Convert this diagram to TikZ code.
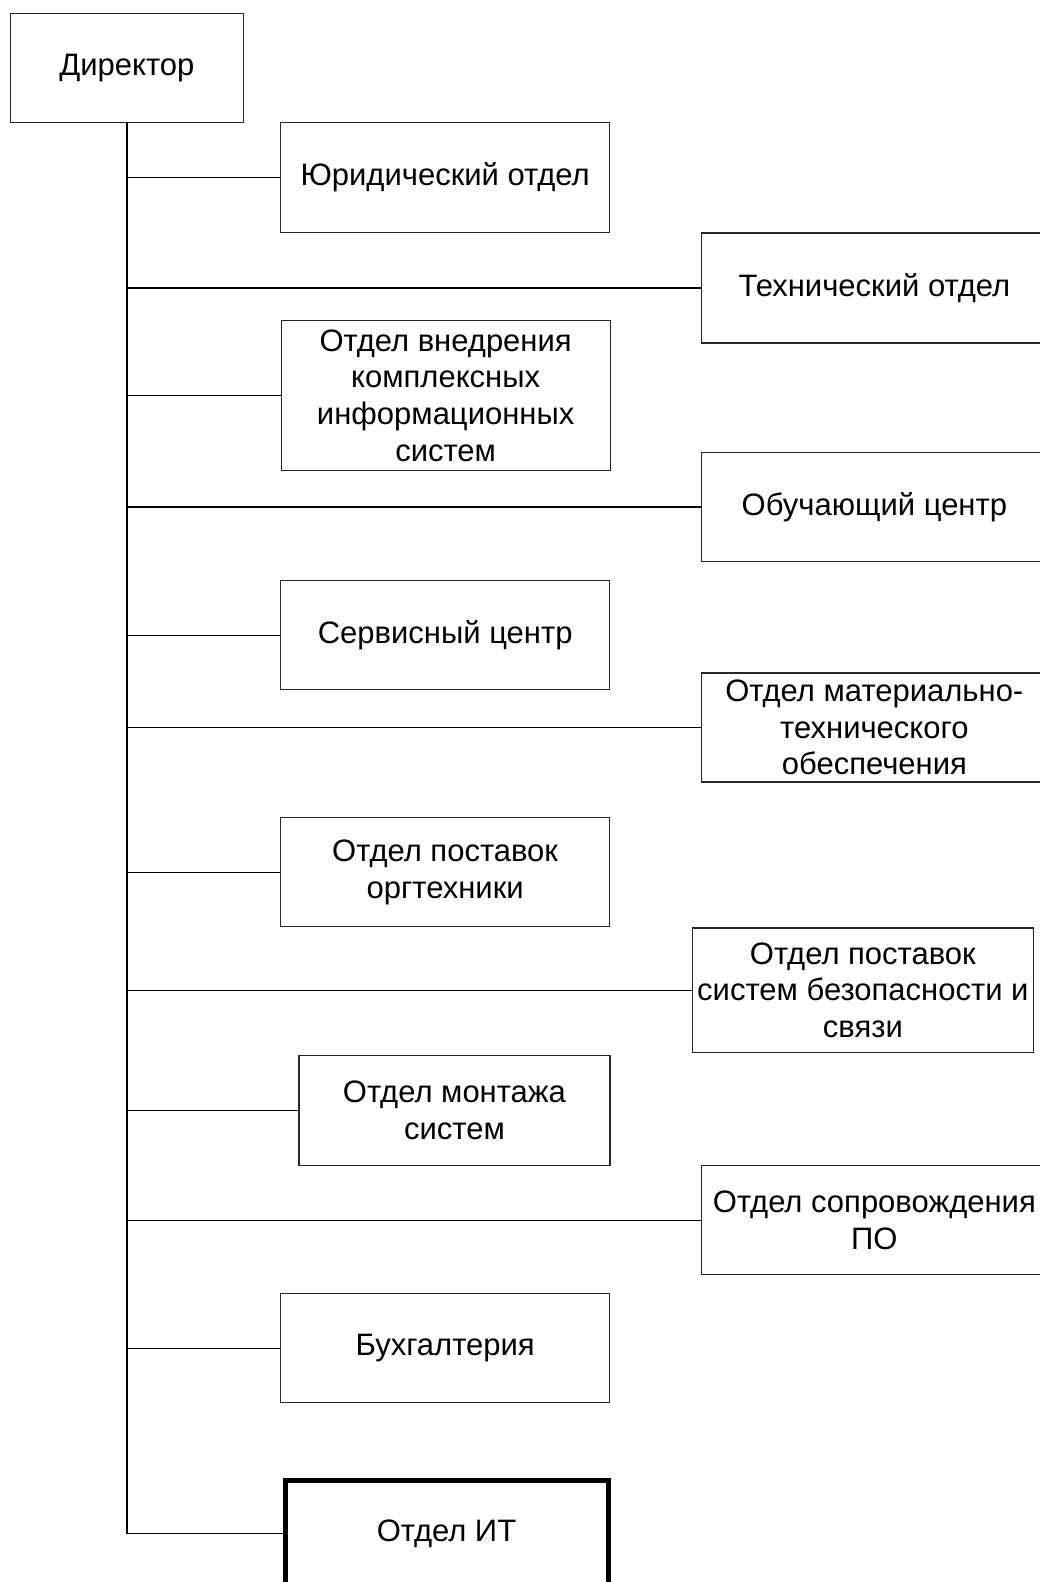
\documentclass[tikz,border=0pt]{standalone}
\usepackage{fontspec}
\setmainfont{Liberation Sans}
\begin{document}
\begin{tikzpicture}[x=1pt,y=-1pt,
  box/.style={draw=black!85,line width=1.3pt,anchor=north west,inner sep=0pt,align=center,
    font=\fontsize{31}{36.8}\selectfont},
  thickbox/.style={box,draw=black,line width=5pt},
  link/.style={draw=black,line width=1.3pt}]
\clip (0,0) rectangle (1040,1582);
\fill[white] (0,0) rectangle (1040,1582);
\node[box,minimum width=233.5pt,minimum height=109.3pt] (dir) at (9.5,12.7) {Директор};
\node[box,minimum width=329pt,minimum height=110pt] (jur) at (280,122) {Юридический отдел};
\node[box,minimum width=346pt,minimum height=110pt] (tech) at (700.7,232.3) {Технический отдел};
\node[box,minimum width=329pt,minimum height=150pt] (vned) at (280.5,320) {Отдел внедрения\\комплексных\\информационных\\систем};
\node[box,minimum width=346pt,minimum height=109pt] (obuch) at (700.7,451.7) {Обучающий центр};
\node[box,minimum width=329pt,minimum height=109pt] (serv) at (280,580) {Сервисный центр};
\node[box,minimum width=346pt,minimum height=109pt] (mat) at (700.7,672.3) {Отдел материально-\\технического\\обеспечения};
\node[box,minimum width=329pt,minimum height=109pt] (orgt) at (280,817) {Отдел поставок\\оргтехники};
\node[box,minimum width=341pt,minimum height=124.4pt] (sist) at (691.7,927.3) {Отдел поставок\\систем безопасности и\\связи};
\node[box,minimum width=311pt,minimum height=110pt] (mont) at (298.3,1055) {Отдел монтажа\\систем};
\node[box,minimum width=346pt,minimum height=109pt] (sopr) at (700.7,1165) {Отдел сопровождения\\ПО};
\node[box,minimum width=329pt,minimum height=109pt] (buh) at (280,1293) {Бухгалтерия};
\node[thickbox,minimum width=323pt,minimum height=107pt] (it) at (282.5,1477.5) {Отдел ИТ};
\draw[link] (dir.south) |- (it.west);
\foreach \b in {jur,tech,vned,obuch,serv,mat,orgt,sist,mont,sopr,buh}
  \draw[link] (dir.south |- \b.west) -- (\b.west);
\end{tikzpicture}
\end{document}
